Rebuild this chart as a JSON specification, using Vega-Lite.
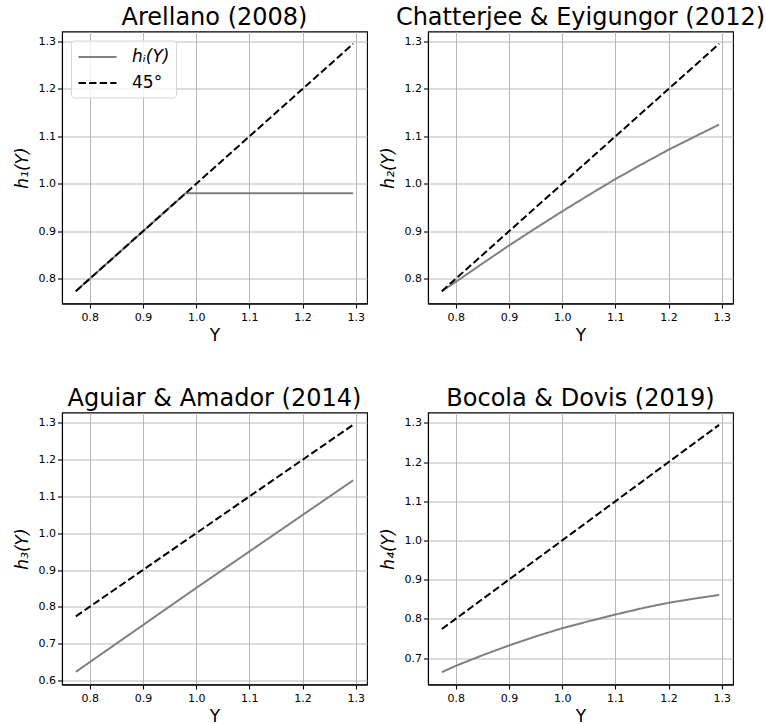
{
  "$schema": "https://vega.github.io/schema/vega-lite/v6.json",
  "padding": {"left": 12, "top": 4.5, "right": 2, "bottom": 0},
  "background": "white",
  "data": {"values": [
    {"p": 1, "s": "hᵢ(Y)", "Y": 0.774, "h": 0.774},
    {"p": 1, "s": "hᵢ(Y)", "Y": 0.98, "h": 0.98},
    {"p": 1, "s": "hᵢ(Y)", "Y": 1.295, "h": 0.98},
    {"p": 1, "s": "45°", "Y": 0.774, "h": 0.774},
    {"p": 1, "s": "45°", "Y": 1.295, "h": 1.295},
    {"p": 2, "s": "hᵢ(Y)", "Y": 0.774, "h": 0.774},
    {"p": 2, "s": "hᵢ(Y)", "Y": 0.8, "h": 0.7935},
    {"p": 2, "s": "hᵢ(Y)", "Y": 0.85, "h": 0.832},
    {"p": 2, "s": "hᵢ(Y)", "Y": 0.9, "h": 0.87},
    {"p": 2, "s": "hᵢ(Y)", "Y": 0.95, "h": 0.9065},
    {"p": 2, "s": "hᵢ(Y)", "Y": 1.0, "h": 0.942},
    {"p": 2, "s": "hᵢ(Y)", "Y": 1.05, "h": 0.9765},
    {"p": 2, "s": "hᵢ(Y)", "Y": 1.1, "h": 1.01},
    {"p": 2, "s": "hᵢ(Y)", "Y": 1.15, "h": 1.0415},
    {"p": 2, "s": "hᵢ(Y)", "Y": 1.2, "h": 1.072},
    {"p": 2, "s": "hᵢ(Y)", "Y": 1.25, "h": 1.1},
    {"p": 2, "s": "hᵢ(Y)", "Y": 1.295, "h": 1.125},
    {"p": 2, "s": "45°", "Y": 0.774, "h": 0.774},
    {"p": 2, "s": "45°", "Y": 1.295, "h": 1.295},
    {"p": 3, "s": "hᵢ(Y)", "Y": 0.774, "h": 0.623},
    {"p": 3, "s": "hᵢ(Y)", "Y": 1.0, "h": 0.851},
    {"p": 3, "s": "hᵢ(Y)", "Y": 1.295, "h": 1.144},
    {"p": 3, "s": "45°", "Y": 0.774, "h": 0.774},
    {"p": 3, "s": "45°", "Y": 1.295, "h": 1.295},
    {"p": 4, "s": "hᵢ(Y)", "Y": 0.774, "h": 0.664},
    {"p": 4, "s": "hᵢ(Y)", "Y": 0.8, "h": 0.68},
    {"p": 4, "s": "hᵢ(Y)", "Y": 0.85, "h": 0.707},
    {"p": 4, "s": "hᵢ(Y)", "Y": 0.9, "h": 0.732},
    {"p": 4, "s": "hᵢ(Y)", "Y": 0.95, "h": 0.755},
    {"p": 4, "s": "hᵢ(Y)", "Y": 1.0, "h": 0.776},
    {"p": 4, "s": "hᵢ(Y)", "Y": 1.05, "h": 0.794},
    {"p": 4, "s": "hᵢ(Y)", "Y": 1.1, "h": 0.811},
    {"p": 4, "s": "hᵢ(Y)", "Y": 1.15, "h": 0.827},
    {"p": 4, "s": "hᵢ(Y)", "Y": 1.2, "h": 0.841},
    {"p": 4, "s": "hᵢ(Y)", "Y": 1.25, "h": 0.852},
    {"p": 4, "s": "hᵢ(Y)", "Y": 1.295, "h": 0.861},
    {"p": 4, "s": "45°", "Y": 0.774, "h": 0.774},
    {"p": 4, "s": "45°", "Y": 1.295, "h": 1.295}
  ]},
  "columns": 2,
  "bounds": "flush",
  "spacing": {"column": 61, "row": 109},
  "resolve": {
    "scale": {"x": "independent", "y": "independent", "color": "independent", "strokeDash": "independent"},
    "legend": {"color": "independent", "strokeDash": "independent"}
  },
  "concat": [
    {
      "width": 305, "height": 272,
      "title": "Arellano (2008)",
      "transform": [{"filter": "datum.p == 1"}],
      "mark": {"type": "line", "strokeWidth": 2, "clip": true},
      "encoding": {
        "x": {"field": "Y", "type": "quantitative", "scale": {"domain": [0.748, 1.321], "nice": false, "zero": false}, "axis": {"title": "Y", "values": [0.8, 0.9, 1.0, 1.1, 1.2, 1.3], "format": ".1f"}},
        "y": {"field": "h", "type": "quantitative", "scale": {"domain": [0.748, 1.321], "nice": false, "zero": false}, "axis": {"title": "h₁(Y)", "values": [0.8, 0.9, 1.0, 1.1, 1.2, 1.3], "format": ".1f"}},
        "color": {"field": "s", "type": "nominal", "sort": ["hᵢ(Y)", "45°"], "scale": {"domain": ["hᵢ(Y)", "45°"], "range": ["#808080", "#000000"]},
          "legend": {"title": null, "orient": "top-left", "offset": 9, "symbolType": "M-2,0H2", "symbolSize": 361, "symbolOffset": 10, "symbolStrokeWidth": 2, "labelFontSize": 17, "labelFont": "DejaVu Sans", "labelColor": "black", "labelOffset": 24, "rowPadding": 7, "padding": 6, "strokeColor": "#d8d8d8", "fillColor": "rgba(255,255,255,0.8)", "cornerRadius": 3,
            "labelLimit": 200,
            "encode": {"labels": {"update": {"fontStyle": {"signal": "datum.label == '45°' ? 'normal' : 'italic'"}}}}}},
        "strokeDash": {"field": "s", "type": "nominal", "sort": ["hᵢ(Y)", "45°"], "scale": {"domain": ["hᵢ(Y)", "45°"], "range": [[1, 0], [7.4, 3.2]]},
          "legend": {"title": null, "orient": "top-left", "offset": 9, "symbolType": "M-2,0H2", "symbolSize": 361, "symbolOffset": 10, "symbolStrokeWidth": 2, "labelFontSize": 17, "labelFont": "DejaVu Sans", "labelColor": "black", "labelOffset": 24, "rowPadding": 7, "padding": 6, "strokeColor": "#d8d8d8", "fillColor": "rgba(255,255,255,0.8)", "cornerRadius": 3,
            "labelLimit": 200,
            "encode": {"labels": {"update": {"fontStyle": {"signal": "datum.label == '45°' ? 'normal' : 'italic'"}}}}}}
      }
    },
    {
      "width": 305, "height": 272,
      "title": "Chatterjee & Eyigungor (2012)",
      "transform": [{"filter": "datum.p == 2"}],
      "mark": {"type": "line", "strokeWidth": 2, "clip": true},
      "encoding": {
        "x": {"field": "Y", "type": "quantitative", "scale": {"domain": [0.748, 1.321], "nice": false, "zero": false}, "axis": {"title": "Y", "values": [0.8, 0.9, 1.0, 1.1, 1.2, 1.3], "format": ".1f"}},
        "y": {"field": "h", "type": "quantitative", "scale": {"domain": [0.748, 1.321], "nice": false, "zero": false}, "axis": {"title": "h₂(Y)", "values": [0.8, 0.9, 1.0, 1.1, 1.2, 1.3], "format": ".1f"}},
        "color": {"field": "s", "type": "nominal", "sort": ["hᵢ(Y)", "45°"], "scale": {"domain": ["hᵢ(Y)", "45°"], "range": ["#808080", "#000000"]}, "legend": null},
        "strokeDash": {"field": "s", "type": "nominal", "sort": ["hᵢ(Y)", "45°"], "scale": {"domain": ["hᵢ(Y)", "45°"], "range": [[1, 0], [7.4, 3.2]]}, "legend": null}
      }
    },
    {
      "width": 305, "height": 272,
      "title": "Aguiar & Amador (2014)",
      "transform": [{"filter": "datum.p == 3"}],
      "mark": {"type": "line", "strokeWidth": 2, "clip": true},
      "encoding": {
        "x": {"field": "Y", "type": "quantitative", "scale": {"domain": [0.748, 1.321], "nice": false, "zero": false}, "axis": {"title": "Y", "values": [0.8, 0.9, 1.0, 1.1, 1.2, 1.3], "format": ".1f"}},
        "y": {"field": "h", "type": "quantitative", "scale": {"domain": [0.5885, 1.3285], "nice": false, "zero": false}, "axis": {"title": "h₃(Y)", "values": [0.6, 0.7, 0.8, 0.9, 1.0, 1.1, 1.2, 1.3], "format": ".1f"}},
        "color": {"field": "s", "type": "nominal", "sort": ["hᵢ(Y)", "45°"], "scale": {"domain": ["hᵢ(Y)", "45°"], "range": ["#808080", "#000000"]}, "legend": null},
        "strokeDash": {"field": "s", "type": "nominal", "sort": ["hᵢ(Y)", "45°"], "scale": {"domain": ["hᵢ(Y)", "45°"], "range": [[1, 0], [7.4, 3.2]]}, "legend": null}
      }
    },
    {
      "width": 305, "height": 272,
      "title": "Bocola & Dovis (2019)",
      "transform": [{"filter": "datum.p == 4"}],
      "mark": {"type": "line", "strokeWidth": 2, "clip": true},
      "encoding": {
        "x": {"field": "Y", "type": "quantitative", "scale": {"domain": [0.748, 1.321], "nice": false, "zero": false}, "axis": {"title": "Y", "values": [0.8, 0.9, 1.0, 1.1, 1.2, 1.3], "format": ".1f"}},
        "y": {"field": "h", "type": "quantitative", "scale": {"domain": [0.6325, 1.3265], "nice": false, "zero": false}, "axis": {"title": "h₄(Y)", "values": [0.7, 0.8, 0.9, 1.0, 1.1, 1.2, 1.3], "format": ".1f"}},
        "color": {"field": "s", "type": "nominal", "sort": ["hᵢ(Y)", "45°"], "scale": {"domain": ["hᵢ(Y)", "45°"], "range": ["#808080", "#000000"]}, "legend": null},
        "strokeDash": {"field": "s", "type": "nominal", "sort": ["hᵢ(Y)", "45°"], "scale": {"domain": ["hᵢ(Y)", "45°"], "range": [[1, 0], [7.4, 3.2]]}, "legend": null}
      }
    }
  ],
  "config": {
    "font": "DejaVu Sans",
    "view": {"stroke": "#000000", "strokeWidth": 1.1},
    "title": {"font": "DejaVu Sans", "fontSize": 24, "fontWeight": "normal", "color": "#000000", "offset": 1.5},
    "axis": {
      "labelFont": "DejaVu Sans", "labelFontSize": 11, "labelColor": "#000000",
      "titleFont": "DejaVu Sans", "titleFontSize": 17, "titleFontWeight": "normal", "titleColor": "#000000",
      "domainColor": "#000000", "domainWidth": 1.1, "tickColor": "#000000", "tickSize": 4.5, "tickWidth": 1.1,
      "grid": true, "gridColor": "#b0b0b0", "gridWidth": 0.9, "labelPadding": 3
    },
    "axisX": {"titlePadding": 5},
    "axisY": {"titlePadding": 7, "titleFontStyle": "italic", "labelPadding": 2}
  }
}
